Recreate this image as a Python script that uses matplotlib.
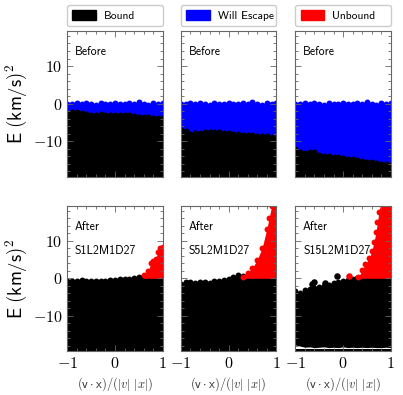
import numpy as np
import matplotlib.pyplot as plt
from matplotlib.patches import Patch
from matplotlib.ticker import MultipleLocator, FuncFormatter

plt.rcParams['mathtext.fontset'] = 'cm'

x_grid = [-1.0, -0.9, -0.8, -0.7, -0.6, -0.5, -0.4, -0.3, -0.2, -0.1, 0.0,
          0.1, 0.2, 0.3, 0.4, 0.5, 0.6, 0.7, 0.8, 0.9, 1.0]

# ---- Before: upper edge of the bound cloud and of the will-escape cloud
before_escape_top = [0.0, -0.1, 0.1, -0.2, 0.1, 0.0, -0.3, 0.1, -0.2, 0.0, 0.1,
                     -0.2, 0.0, 0.2, -0.1, 0.5, 0.0, -0.3, 0.2, -0.1, 0.1]
before_bound_top = [
    [-2.4, -2.3, -2.2, -2.5, -2.8, -2.9, -2.9, -2.8, -2.9, -2.9, -2.9,
     -3.0, -3.0, -3.1, -3.2, -3.5, -3.6, -3.6, -3.7, -3.8, -3.9],
    [-6.9, -7.3, -8.1, -7.9, -7.8, -7.6, -7.5, -7.5, -7.6, -7.8, -7.9,
     -8.0, -8.1, -8.2, -8.3, -8.3, -8.6, -8.7, -8.7, -8.8, -9.4],
    [-12.0, -12.8, -13.1, -12.9, -12.9, -13.6, -13.9, -14.0, -14.2, -14.3, -14.4,
     -14.6, -14.8, -15.0, -15.2, -15.4, -15.5, -15.7, -15.9, -16.1, -16.3],
]

# ---- After
run_names = ['S1L2M1D27', 'S5L2M1D27', 'S15L2M1D27']
after_bound_top = [
    [-0.7, -0.6, -0.8, -0.5, -0.7, -0.7, -0.6, -0.6, -0.7, -0.5, -0.4,
     -0.3, -0.3, -0.2, 0.1, 0.3, 0.5, 0.0, 0.0, 0.0, 0.0],
    [-1.5, -1.0, -1.1, -1.2, -0.9, -1.1, -1.2, -0.8, -0.6, -0.5, -0.2,
     0.3, 0.8, 0.5, 0.0, 0.0, 0.0, 0.0, 0.0, 0.0, 0.0],
    [-3.5, -3.9, -3.2, -2.8, -2.6, -2.2, -2.0, -1.8, -1.2, -0.9, -0.6,
     -0.4, -0.2, 0.1, 0.0, 0.0, 0.0, 0.0, 0.0, 0.0, 0.0],
]
unbound_x = [
    [0.6, 0.7, 0.75, 0.8, 0.85, 0.9, 0.95, 1.0],
    [0.3, 0.4, 0.5, 0.6, 0.7, 0.8, 0.85, 0.9, 1.0],
    [0.32, 0.4, 0.46, 0.55, 0.6, 0.65, 0.69, 0.72, 0.75, 0.8, 1.0],
]
unbound_top = [
    [0.9, 2.0, 4.0, 4.6, 5.2, 7.0, 8.0, 8.4],
    [0.4, 1.4, 2.8, 5.0, 8.0, 13.2, 16.2, 19.2, 22.0],
    [0.4, 2.1, 3.7, 5.4, 7.2, 9.8, 12.4, 15.0, 17.6, 21.0, 22.0],
]
# stray particles in the S15 run
stray_bound_x = [-0.66, -0.62, -0.38, -0.13]
stray_bound_e = [-1.5, -1.1, -1.3, 0.7]
stray_unbound_x = [0.13]
stray_unbound_e = [0.7]
# S15 lower edge of the main bound cloud, and top of the thin band under the gap
s15_floor = [-17.8, -18.1, -18.4, -18.3, -18.5, -18.4, -18.3, -18.5, -18.4, -18.5, -18.3,
             -18.5, -18.4, -18.5, -18.4, -18.5, -18.4, -18.5, -18.5, -18.4, -18.5]
s15_deep_top = -19.0

legend_labels = ['Bound', 'Will Escape', 'Unbound']
colors = ['black', 'blue', 'red']
ylim = (-19.4, 19.4)
bottom = -30
sans = 'cmss10'

fig = plt.figure(figsize=(4.03, 3.95), dpi=100)
lefts = [0.167, 0.449, 0.733]
width = 0.2367
rows = [(0.5527, 0.3696), (0.1114, 0.3680)]

fmt = FuncFormatter(lambda v, p: r'$%g$' % v)


def style(ax, col, row):
    ax.set_xlim(-1, 1)
    ax.set_ylim(*ylim)
    ax.xaxis.set_major_locator(MultipleLocator(1))
    ax.xaxis.set_minor_locator(MultipleLocator(0.2))
    ax.yaxis.set_major_locator(MultipleLocator(10))
    ax.yaxis.set_minor_locator(MultipleLocator(2))
    ax.xaxis.set_major_formatter(fmt)
    ax.yaxis.set_major_formatter(fmt)
    ax.tick_params(which='both', direction='in', top=True, right=True,
                   color='0.4', width=0.6, labelsize=11.5)
    ax.tick_params(which='major', length=4)
    ax.tick_params(which='minor', length=2)
    for s in ax.spines.values():
        s.set_color('0.4')
        s.set_linewidth(0.8)
    if col > 0:
        ax.tick_params(labelleft=False)
    else:
        ax.set_ylabel(r'$\mathsf{E\ (km/s)^2}$', fontsize=13.5, labelpad=3)
    if row == 0:
        ax.tick_params(labelbottom=False)
    else:
        ax.set_xlabel(r'$\mathsf{(v\cdot x)/(}|v|\ |x|\mathsf{)}$', fontsize=9,
                      color='0.2', labelpad=3)


for i in range(3):
    # before
    ax = fig.add_axes([lefts[i], rows[0][0], width, rows[0][1]])
    ax.fill_between(x_grid, bottom, before_bound_top[i], color='black', lw=0)
    ax.fill_between(x_grid, before_bound_top[i], before_escape_top, color='blue', lw=0)
    ax.scatter(x_grid, before_escape_top, s=18, c='blue', lw=0, clip_on=True)
    ax.scatter(x_grid, before_bound_top[i], s=18, c='black', lw=0)
    ax.text(0.08, 0.855, 'Before', transform=ax.transAxes,
            fontsize=8.5, va='center', family=sans)
    style(ax, i, 0)
    ax.legend([Patch(facecolor=colors[i], edgecolor=colors[i])], [legend_labels[i]],
              loc='lower left', bbox_to_anchor=(0, 1.03, 1, 0.13), mode='expand',
              borderaxespad=0, prop={'family': sans, 'size': 8.3},
              handlelength=2.05, handleheight=0.9, handletextpad=0.7,
              borderpad=0.45, framealpha=1, edgecolor='0.8')

    # after
    ax = fig.add_axes([lefts[i], rows[1][0], width, rows[1][1]])
    floor = s15_floor if i == 2 else bottom
    ax.fill_between(x_grid, floor, after_bound_top[i], color='black', lw=0)
    ax.scatter(x_grid, after_bound_top[i], s=18, c='black', lw=0)
    ax.fill_between(unbound_x[i], 0.0, unbound_top[i], color='red', lw=0)
    ax.scatter(unbound_x[i], unbound_top[i], s=18, c='red', lw=0)
    if i == 2:
        ax.fill_between(x_grid, bottom, s15_deep_top, color='black', lw=0)
        ax.scatter(stray_bound_x, stray_bound_e, s=22, c='black', lw=0)
        ax.scatter(stray_unbound_x, stray_unbound_e, s=22, c='red', lw=0)
    ax.text(0.08, 0.851, 'After', transform=ax.transAxes,
            fontsize=8.5, va='center', family=sans)
    ax.text(0.08, 0.688, run_names[i], transform=ax.transAxes,
            fontsize=8.5, va='center', family=sans)
    style(ax, i, 1)

fig.savefig('out.png', dpi=100)
